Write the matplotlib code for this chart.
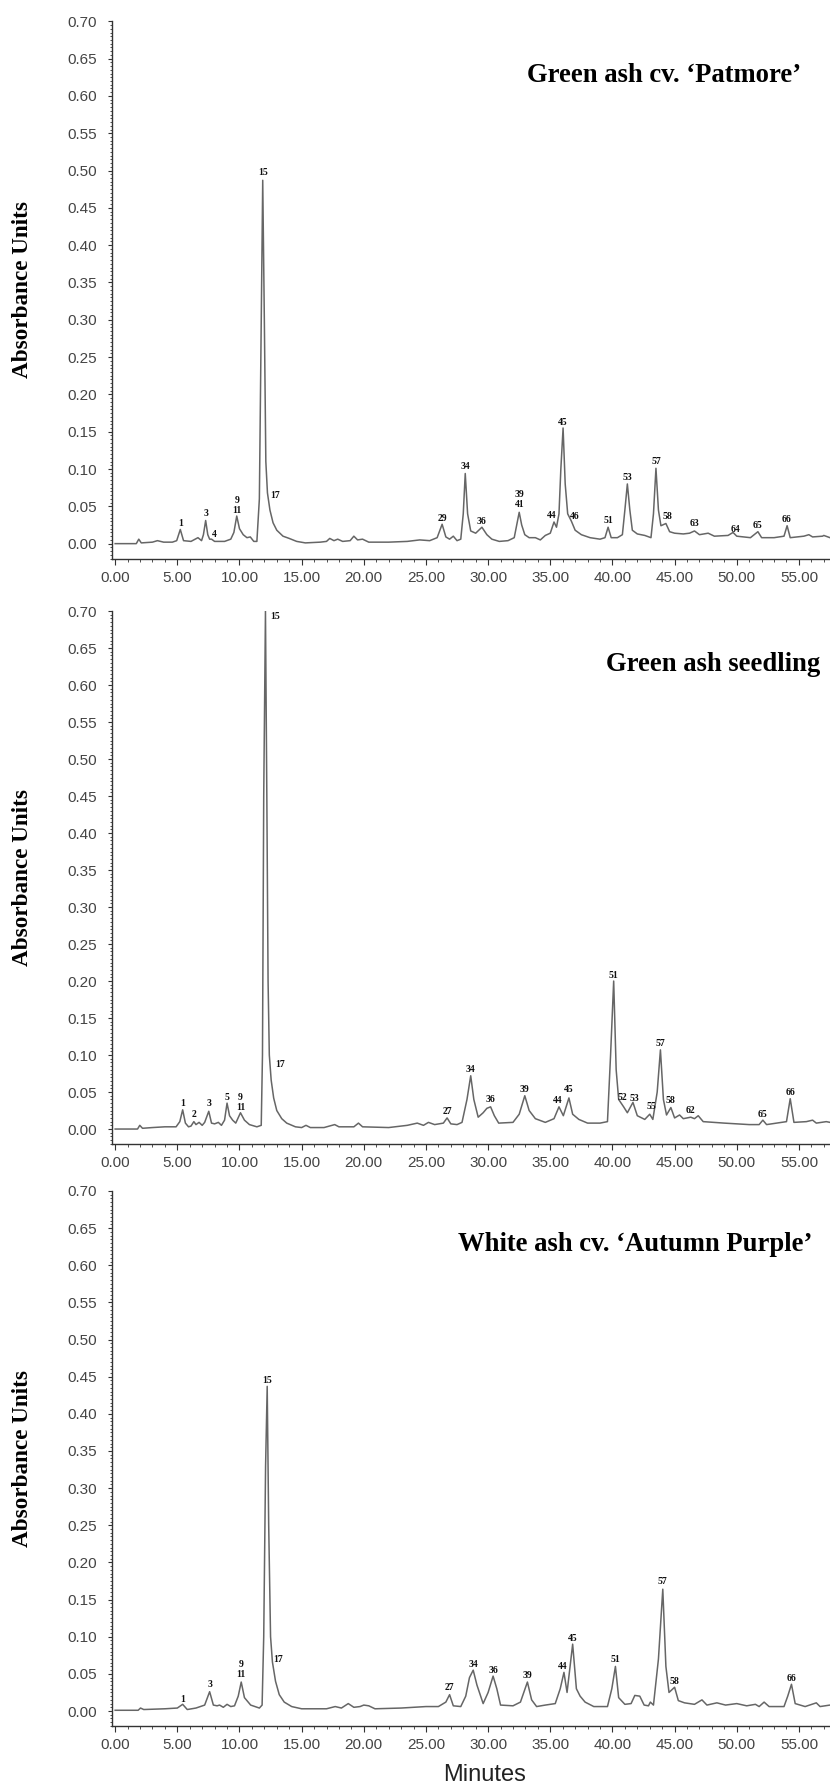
import matplotlib.pyplot as plt
from matplotlib.ticker import MultipleLocator, FormatStrFormatter

# --- Green ash cv. 'Patmore' : retention time (min) / absorbance (AU)
patmore_t = [0.0, 1.7, 1.9, 2.1, 3.0, 3.4, 3.9, 4.6, 4.95, 5.24, 5.5, 6.1, 6.66, 6.95,
             7.1, 7.28, 7.45, 7.6, 7.75, 8.0, 8.8, 9.3, 9.55, 9.78, 10.0, 10.3, 10.6,
             10.87, 11.15, 11.4, 11.6, 11.75, 11.87, 12.0, 12.12, 12.25, 12.45, 12.7,
             13.0, 13.5, 14.0, 14.6, 15.3, 16.5, 17.0, 17.26, 17.6, 17.9, 18.3, 18.9,
             19.2, 19.5, 19.9, 20.4, 22.0, 23.5, 24.5, 25.3, 25.9, 26.3, 26.6, 26.9,
             27.2, 27.5, 27.8, 28.0, 28.16, 28.35, 28.6, 29.0, 29.5, 29.9, 30.3, 30.9,
             31.6, 32.1, 32.3, 32.5, 32.7, 32.95, 33.3, 33.8, 34.2, 34.6, 35.0, 35.3,
             35.5, 35.7, 35.85, 36.03, 36.2, 36.4, 36.7, 37.0, 37.5, 38.2, 39.0, 39.4,
             39.65, 39.9, 40.4, 40.8, 41.0, 41.2, 41.4, 41.6, 42.0, 42.6, 43.1, 43.3,
             43.5, 43.7, 43.9, 44.3, 44.6, 45.0, 45.7, 46.2, 46.6, 47.0, 47.7, 48.2,
             49.3, 49.7, 50.0, 51.1, 51.7, 52.0, 53.0, 53.8, 54.05, 54.3, 55.4, 55.8,
             56.1, 56.9, 57.0, 57.5]
patmore_a = [0.000, 0.000, 0.006, 0.001, 0.002, 0.004, 0.002, 0.002, 0.004, 0.019, 0.004,
             0.003, 0.008, 0.004, 0.012, 0.031, 0.012, 0.006, 0.006, 0.003, 0.003, 0.006,
             0.015, 0.037, 0.020, 0.012, 0.008, 0.009, 0.003, 0.003, 0.060, 0.300, 0.487,
             0.300, 0.110, 0.068, 0.045, 0.028, 0.018, 0.010, 0.007, 0.003, 0.001, 0.002,
             0.003, 0.007, 0.004, 0.006, 0.003, 0.004, 0.010, 0.005, 0.006, 0.002, 0.002,
             0.003, 0.005, 0.004, 0.008, 0.026, 0.009, 0.006, 0.010, 0.004, 0.006, 0.040,
             0.094, 0.040, 0.017, 0.014, 0.022, 0.012, 0.006, 0.003, 0.004, 0.008, 0.025,
             0.042, 0.025, 0.012, 0.008, 0.008, 0.005, 0.011, 0.014, 0.029, 0.022, 0.040,
             0.100, 0.155, 0.080, 0.040, 0.030, 0.018, 0.012, 0.008, 0.006, 0.008, 0.022,
             0.008, 0.008, 0.012, 0.045, 0.080, 0.045, 0.018, 0.013, 0.011, 0.008, 0.040,
             0.101, 0.045, 0.024, 0.027, 0.016, 0.014, 0.013, 0.014, 0.017, 0.012, 0.014,
             0.010, 0.011, 0.015, 0.010, 0.008, 0.016, 0.008, 0.008, 0.010, 0.024, 0.008,
             0.010, 0.012, 0.009, 0.010, 0.011, 0.008]
patmore_labels = ["1", "3", "4", "9\n11", "15", "17", "29", "34", "36", "39\n41", "44",
                  "45", "46", "51", "53", "57", "58", "63", "64", "65", "66"]
patmore_lab_t = [5.24, 7.28, 7.96, 9.78, 11.87, 12.85, 26.3, 28.16, 29.5, 32.5, 35.1,
                 36.03, 37.0, 39.65, 41.2, 43.5, 44.4, 46.6, 49.9, 51.7, 54.0]
patmore_lab_y = [0.027, 0.040, 0.012, 0.051, 0.497, 0.064, 0.034, 0.104, 0.030, 0.059,
                 0.038, 0.163, 0.037, 0.031, 0.089, 0.110, 0.037, 0.027, 0.019, 0.024,
                 0.032]

# --- Green ash seedling
seedling_t = [0.0, 1.8, 1.98, 2.2, 3.0, 4.0, 4.9, 5.2, 5.43, 5.65, 5.9, 6.1, 6.33, 6.5,
              6.75, 7.0, 7.2, 7.53, 7.75, 8.0, 8.3, 8.55, 8.8, 9.0, 9.2, 9.45, 9.7,
              10.08, 10.4, 10.8, 11.4, 11.75, 11.85, 11.95, 12.09, 12.2, 12.3, 12.4,
              12.55, 12.75, 13.0, 13.4, 13.8, 14.5, 15.0, 15.35, 15.7, 16.8, 17.66, 18.0,
              19.2, 19.57, 19.9, 22.0, 23.5, 24.3, 24.8, 25.2, 25.7, 26.4, 26.7, 27.0,
              27.5, 27.9, 28.3, 28.6, 28.85, 29.2, 29.6, 29.9, 30.2, 30.5, 30.85, 32.0,
              32.5, 32.95, 33.3, 33.8, 34.6, 35.3, 35.7, 36.05, 36.5, 36.8, 37.3, 38.0,
              39.0, 39.6, 39.85, 40.1, 40.3, 40.5, 40.9, 41.2, 41.65, 42.0, 42.6, 43.0,
              43.25, 43.6, 43.86, 44.1, 44.35, 44.7, 45.0, 45.4, 45.7, 46.3, 46.6, 46.9,
              47.3, 49.0, 51.0, 51.8, 52.1, 52.4, 54.0, 54.3, 54.6, 55.6, 56.1, 56.4,
              57.2, 57.5]
seedling_a = [0.000, 0.000, 0.005, 0.001, 0.002, 0.003, 0.003, 0.010, 0.026, 0.008, 0.003,
              0.004, 0.010, 0.006, 0.009, 0.005, 0.009, 0.024, 0.008, 0.007, 0.009, 0.005,
              0.012, 0.035, 0.018, 0.012, 0.008, 0.022, 0.012, 0.006, 0.003, 0.005, 0.100,
              0.450, 0.700, 0.450, 0.200, 0.100, 0.066, 0.042, 0.025, 0.014, 0.008, 0.003,
              0.002, 0.005, 0.002, 0.002, 0.006, 0.003, 0.003, 0.008, 0.003, 0.002, 0.005,
              0.008, 0.005, 0.009, 0.006, 0.008, 0.015, 0.007, 0.006, 0.009, 0.040, 0.072,
              0.040, 0.016, 0.022, 0.028, 0.030, 0.018, 0.008, 0.009, 0.020, 0.045, 0.025,
              0.014, 0.009, 0.014, 0.030, 0.018, 0.042, 0.020, 0.013, 0.008, 0.008, 0.010,
              0.100, 0.200, 0.080, 0.040, 0.030, 0.022, 0.036, 0.018, 0.013, 0.020, 0.013,
              0.050, 0.107, 0.040, 0.019, 0.029, 0.015, 0.019, 0.014, 0.016, 0.014, 0.018,
              0.010, 0.008, 0.006, 0.006, 0.012, 0.006, 0.010, 0.041, 0.009, 0.010, 0.012,
              0.008, 0.010, 0.009]
seedling_labels = ["1", "2", "3", "5", "9\n11", "15", "17", "27", "34", "36", "39", "44",
                   "45", "51", "52", "53", "55", "57", "58", "62", "65", "66"]
seedling_lab_t = [5.43, 6.33, 7.53, 9.0, 10.08, 12.85, 13.23, 26.7, 28.6, 30.2, 32.95,
                  35.6, 36.5, 40.1, 40.8, 41.8, 43.1, 43.86, 44.7, 46.3, 52.1, 54.3]
seedling_lab_y = [0.035, 0.019, 0.034, 0.042, 0.036, 0.692, 0.087, 0.024, 0.080, 0.040,
                  0.054, 0.039, 0.053, 0.208, 0.042, 0.041, 0.031, 0.116, 0.039, 0.025,
                  0.020, 0.049]

# --- White ash cv. 'Autumn Purple'
purple_t = [0.0, 1.85, 2.04, 2.3, 4.0, 5.0, 5.43, 5.8, 6.5, 7.2, 7.6, 7.9, 8.2, 8.4, 8.7,
            9.0, 9.3, 9.6, 9.9, 10.14, 10.4, 10.9, 11.6, 11.82, 11.95, 12.1, 12.23, 12.35,
            12.5, 12.65, 12.9, 13.2, 13.6, 14.2, 15.0, 17.0, 17.7, 18.2, 18.75, 19.2, 19.7,
            20.0, 20.4, 20.9, 23.0, 25.0, 26.0, 26.6, 26.9, 27.2, 27.8, 28.2, 28.5, 28.8,
            29.1, 29.6, 30.0, 30.4, 30.7, 31.0, 32.0, 32.6, 33.16, 33.5, 33.9, 34.6, 35.4,
            35.8, 36.1, 36.35, 36.8, 37.1, 37.4, 37.8, 38.5, 39.6, 39.95, 40.24, 40.5, 41.0,
            41.5, 41.8, 42.2, 42.55, 42.9, 43.05, 43.3, 43.7, 44.05, 44.3, 44.55, 45.0,
            45.3, 45.8, 46.6, 47.2, 47.6, 48.4, 49.1, 50.0, 50.8, 51.5, 51.8, 52.2, 52.6,
            53.8, 54.1, 54.4, 54.7, 55.5, 56.4, 56.7, 57.5]
purple_a = [0.001, 0.001, 0.004, 0.002, 0.003, 0.004, 0.009, 0.002, 0.004, 0.008, 0.026,
            0.008, 0.007, 0.008, 0.005, 0.009, 0.006, 0.007, 0.020, 0.039, 0.018, 0.008,
            0.004, 0.008, 0.100, 0.330, 0.437, 0.250, 0.100, 0.066, 0.040, 0.022, 0.012,
            0.006, 0.003, 0.003, 0.006, 0.004, 0.010, 0.005, 0.006, 0.008, 0.007, 0.003,
            0.004, 0.006, 0.006, 0.012, 0.022, 0.007, 0.006, 0.020, 0.045, 0.055, 0.035,
            0.010, 0.025, 0.047, 0.030, 0.008, 0.007, 0.012, 0.039, 0.015, 0.006, 0.008,
            0.010, 0.030, 0.052, 0.025, 0.090, 0.030, 0.020, 0.012, 0.006, 0.006, 0.030,
            0.060, 0.018, 0.009, 0.010, 0.021, 0.020, 0.008, 0.007, 0.012, 0.008, 0.070,
            0.164, 0.060, 0.025, 0.032, 0.014, 0.011, 0.009, 0.015, 0.008, 0.011, 0.008,
            0.010, 0.007, 0.009, 0.006, 0.012, 0.006, 0.006, 0.020, 0.036, 0.010, 0.006,
            0.011, 0.006, 0.008]
purple_labels = ["1", "3", "9\n11", "15", "17", "27", "34", "36", "39", "44", "45", "51",
                 "57", "58", "66"]
purple_lab_t = [5.43, 7.6, 10.14, 12.23, 13.1, 26.9, 28.8, 30.4, 33.16, 36.0, 36.8, 40.24,
                44.05, 45.0, 54.4]
purple_lab_y = [0.015, 0.036, 0.056, 0.445, 0.069, 0.032, 0.063, 0.054, 0.048, 0.060,
                0.098, 0.069, 0.174, 0.040, 0.044]

titles = ["Green ash cv. \u2018Patmore\u2019", "Green ash seedling",
          "White ash cv. \u2018Autumn Purple\u2019"]
# right edge of each sample name, in minutes
title_x = [55.2, 56.7, 56.1]

panels = [
    (patmore_t, patmore_a, patmore_labels, patmore_lab_t, patmore_lab_y),
    (seedling_t, seedling_a, seedling_labels, seedling_lab_t, seedling_lab_y),
    (purple_t, purple_a, purple_labels, purple_lab_t, purple_lab_y),
]

# axes boxes [left, bottom, width, height] in figure fraction
boxes = [[0.135, 0.6883, 0.865, 0.2998],
         [0.135, 0.3617, 0.865, 0.2973],
         [0.135, 0.0369, 0.865, 0.2985]]

serif = "Liberation Serif"
sans = "Liberation Sans"
tick_col = "#444444"

fig = plt.figure(figsize=(8.3, 17.92), dpi=100)

for k, (t, a, labs, lab_t, lab_y) in enumerate(panels):
    ax = fig.add_axes(boxes[k])
    ax.plot(t, a, color="#666666", linewidth=1.1)

    ax.set_xlim(-0.25, 57.5)
    ax.set_ylim(-0.02, 0.70)

    for side in ["top", "right"]:
        ax.spines[side].set_visible(False)
    for side in ["left", "bottom"]:
        ax.spines[side].set_color("#333333")
        ax.spines[side].set_linewidth(1.0)

    ax.set_xticks(list(range(0, 60, 5)))
    ax.xaxis.set_minor_locator(MultipleLocator(1))
    ax.yaxis.set_major_locator(MultipleLocator(0.05))
    ax.yaxis.set_minor_locator(MultipleLocator(0.005))
    ax.xaxis.set_major_formatter(FormatStrFormatter("%.2f"))
    ax.yaxis.set_major_formatter(FormatStrFormatter("%.2f"))

    ax.tick_params(axis="both", which="major", direction="out", color="#333333",
                   labelcolor=tick_col, labelsize=11)
    ax.tick_params(axis="y", which="major", length=3, width=0.8, pad=8)
    ax.tick_params(axis="y", which="minor", length=1.5, width=0.6, color="#333333")
    ax.tick_params(axis="x", which="major", length=4, width=0.8, pad=5)
    ax.tick_params(axis="x", which="minor", length=2.5, width=0.6, color="#333333")
    for lab in ax.get_xticklabels() + ax.get_yticklabels():
        lab.set_fontfamily(sans)

    ax.set_ylabel("Absorbance Units", fontfamily=serif, fontweight="bold",
                  fontsize=16.7)
    ax.yaxis.set_label_coords(-0.11, 0.5)

    ax.text(title_x[k], 0.628, titles[k], fontfamily=serif, fontweight="bold",
            fontsize=19.2, ha="right", va="center")

    # peak numbers
    for s, x, y in zip(labs, lab_t, lab_y):
        ax.text(x, y, s, fontfamily=serif, fontweight="bold", fontsize=7,
                ha="center", va="center", linespacing=1.2, color="#111111")

fig.text(0.584, 0.0095, "Minutes", fontfamily=sans, fontsize=17,
         ha="center", va="center", color="#222222")

fig.savefig("out.png", dpi=100)
